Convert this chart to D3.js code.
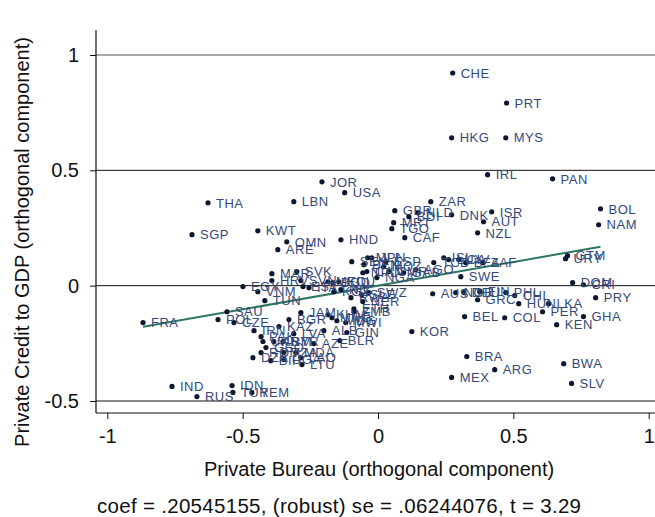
<!DOCTYPE html>
<html>
<head>
<meta charset="utf-8">
<script src="https://cdn.jsdelivr.net/npm/d3@7"></script>
<style>
  body { margin: 0; background: #fff; }
  svg { font-family: "Liberation Sans", Arial, sans-serif; }
</style>
</head>
<body>
<div id="chart"></div>
<script>
// Country codes and their added-variable residuals.
const codes = ["CHE","PRT","HKG","MYS","IRL","PAN","JOR","USA","THA","LBN","ZAR","BOL","GBR","NLD","BDI","DNK","ISR","AUT","MRT","TGO",
  "NZL","CAF","HND","NAM","SGP","KWT","OMN","ARE","GTM","URY","ZAF","DOM","CRI","PRY","GHA","KEN","PER","LKA","HUN","CHL",
  "PHL","COL","BEL","GRC","FIN","NOR","DEU","AUS","SWE","KOR","BRA","MEX","ARG","BWA","SLV","FRA","SAU","POL","CZE","IND",
  "RUS","IDN","TUR","YEM","EGY","VNM","TUN","MAR","HRV","SVK","SVN","EST","ITA","MKD","BGD","ECU","SEN","BEN","MLI","JPN",
  "MOZ","ESP","NPL","CAN","NGA","CMR","GAB","AGO","TCD","ISL","LUX","CIV","BFA","KGZ","NIC","RWA","NER","SWZ","ETH","ZMB",
  "SLE","JAM","KHM","MNG","MDG","MWI","BGR","ALB","GIN","BLR","AZE","IRN","KAZ","PAK","UKR","LVA","ARM","SYR","GEO","ROM",
  "TZA","MDA","DZA","BIH","UGA","LAO","LTU"];
const bureau = [0.276,0.475,0.272,0.472,0.405,0.645,-0.207,-0.123,-0.628,-0.311,0.195,0.822,0.062,0.147,0.114,0.272,0.420,0.390,0.058,0.051,
  0.368,0.099,-0.137,0.815,-0.687,-0.444,-0.337,-0.370,0.700,0.693,0.387,0.719,0.759,0.804,0.759,0.660,0.608,0.630,0.520,0.505,
  0.472,0.468,0.320,0.368,0.376,0.287,0.317,0.202,0.306,0.125,0.328,0.272,0.431,0.686,0.715,-0.868,-0.558,-0.591,-0.532,-0.761,
  -0.669,-0.539,-0.536,-0.466,-0.499,-0.444,-0.418,-0.392,-0.392,-0.300,-0.285,-0.277,-0.255,-0.185,-0.167,-0.145,-0.097,-0.052,-0.038,-0.023,
  0.021,0.029,-0.056,-0.041,-0.004,0.040,0.095,0.139,0.206,0.243,0.261,0.298,0.324,-0.163,-0.137,-0.100,-0.056,-0.034,-0.089,-0.089,
  -0.060,-0.285,-0.185,-0.170,-0.152,-0.119,-0.329,-0.200,-0.115,-0.141,-0.237,-0.458,-0.366,-0.432,-0.425,-0.311,-0.385,-0.351,-0.414,-0.432,
  -0.348,-0.303,-0.462,-0.396,-0.348,-0.285,-0.281];
const credit = [0.922,0.792,0.641,0.641,0.481,0.463,0.450,0.403,0.359,0.364,0.364,0.333,0.325,0.316,0.299,0.307,0.320,0.277,0.273,0.247,
  0.229,0.208,0.199,0.264,0.221,0.238,0.190,0.156,0.130,0.117,0.100,0.013,0.004,-0.052,-0.134,-0.169,-0.113,-0.078,-0.078,-0.043,
  -0.030,-0.139,-0.134,-0.061,-0.026,-0.030,-0.030,-0.035,0.039,-0.199,-0.307,-0.398,-0.364,-0.338,-0.424,-0.160,-0.113,-0.147,-0.160,-0.437,
  -0.481,-0.433,-0.463,-0.463,-0.004,-0.026,-0.065,0.052,0.022,0.061,0.022,-0.004,-0.009,0.017,0.013,0.017,0.104,0.091,0.121,0.121,
  0.082,0.104,0.056,0.061,0.035,0.061,0.056,0.069,0.100,0.121,0.113,0.113,0.100,-0.026,-0.017,-0.052,-0.069,-0.030,-0.100,-0.113,
  -0.039,-0.117,-0.126,-0.139,-0.152,-0.160,-0.147,-0.195,-0.203,-0.238,-0.251,-0.195,-0.177,-0.221,-0.242,-0.208,-0.242,-0.242,-0.268,-0.290,
  -0.290,-0.290,-0.312,-0.325,-0.320,-0.312,-0.342];

const xTicks = [-1, -0.5, 0, 0.5, 1];
const yTicks = [-0.5, 0, 0.5, 1];
const COEF = 0.20545155;
const NOTE = "coef = .20545155, (robust) se = .06244076, t = 3.29";

const W = 655, H = 517;
const FONT = 20;
const svg = d3.select('#chart').append('svg')
    .attr('width', W)
    .attr('height', H);

const x = d3.scaleLinear().domain([-1, 1]).range([107.3, 648.7]);
const y = d3.scaleLinear().domain([-0.5, 1]).range([401, 55]);

const axisX = 96, axisY = 413;
const fmt = d => d === 0 ? '0' : String(d);

// Horizontal grid lines at the y ticks.
svg.selectAll('.grid')
    .data(yTicks)
    .join('line')
    .attr('class', 'grid')
    .attr('x1', axisX).attr('x2', W)
    .attr('y1', d => y(d)).attr('y2', d => y(d))
    .attr('stroke', d => d === 1 ? '#555' : '#111')
    .attr('stroke-width', 1);

// Y axis.
const yAxisG = svg.append('g').attr('transform', `translate(${axisX},0)`);
yAxisG.call(d3.axisLeft(y).tickValues(yTicks).tickFormat(fmt).tickSize(6).tickPadding(11))
    .call(g => g.select('.domain').remove());
yAxisG.append('line').attr('x1', 0).attr('x2', 0).attr('y1', 30).attr('y2', axisY)
    .attr('stroke', '#111').attr('stroke-width', 1.2);

// X axis.
const xAxisG = svg.append('g').attr('transform', `translate(0,${axisY})`);
xAxisG.call(d3.axisBottom(x).tickValues(xTicks).tickFormat(fmt).tickSize(6).tickPadding(10))
    .call(g => g.select('.domain').remove());
xAxisG.append('line').attr('x1', axisX).attr('x2', W).attr('y1', 0).attr('y2', 0)
    .attr('stroke', '#111').attr('stroke-width', 1.2);

svg.selectAll('.tick line').attr('stroke', '#111');
svg.selectAll('.tick text').attr('font-size', FONT).attr('fill', '#111')
    .attr('font-family', '"Liberation Sans", Arial, sans-serif');

// Fitted line through the points.
const xExt = d3.extent(bureau);
svg.append('line')
    .attr('x1', x(xExt[0])).attr('y1', y(COEF * xExt[0]))
    .attr('x2', x(xExt[1])).attr('y2', y(COEF * xExt[1]))
    .attr('stroke', '#2c7664')
    .attr('stroke-width', 2);

const pts = codes.map((c, i) => ({ code: c, bx: bureau[i], cy: credit[i] }));

svg.selectAll('.dot')
    .data(pts)
    .join('circle')
    .attr('class', 'dot')
    .attr('cx', d => x(d.bx))
    .attr('cy', d => y(d.cy))
    .attr('r', 2.6)
    .attr('fill', '#0e1730');

svg.selectAll('.lbl')
    .data(pts)
    .join('text')
    .attr('class', 'lbl')
    .attr('x', d => x(d.bx) + 8)
    .attr('y', d => y(d.cy))
    .attr('dy', '0.36em')
    .attr('font-size', 13)
    .attr('letter-spacing', 0.5)
    .attr('fill', '#34487a')
    .text(d => d.code);

// Titles.
svg.append('text')
    .attr('x', 379).attr('y', 476)
    .attr('text-anchor', 'middle')
    .attr('font-size', FONT).attr('fill', '#111')
    .text('Private Bureau (orthogonal component)');

svg.append('text')
    .attr('transform', 'translate(29,242) rotate(-90)')
    .attr('text-anchor', 'middle')
    .attr('font-size', FONT).attr('fill', '#111')
    .text('Private Credit to GDP (orthogonal component)');

svg.append('text')
    .attr('x', 97).attr('y', 513)
    .attr('font-size', 20.5).attr('letter-spacing', 0.3).attr('fill', '#111')
    .text(NOTE);
</script>
</body>
</html>
